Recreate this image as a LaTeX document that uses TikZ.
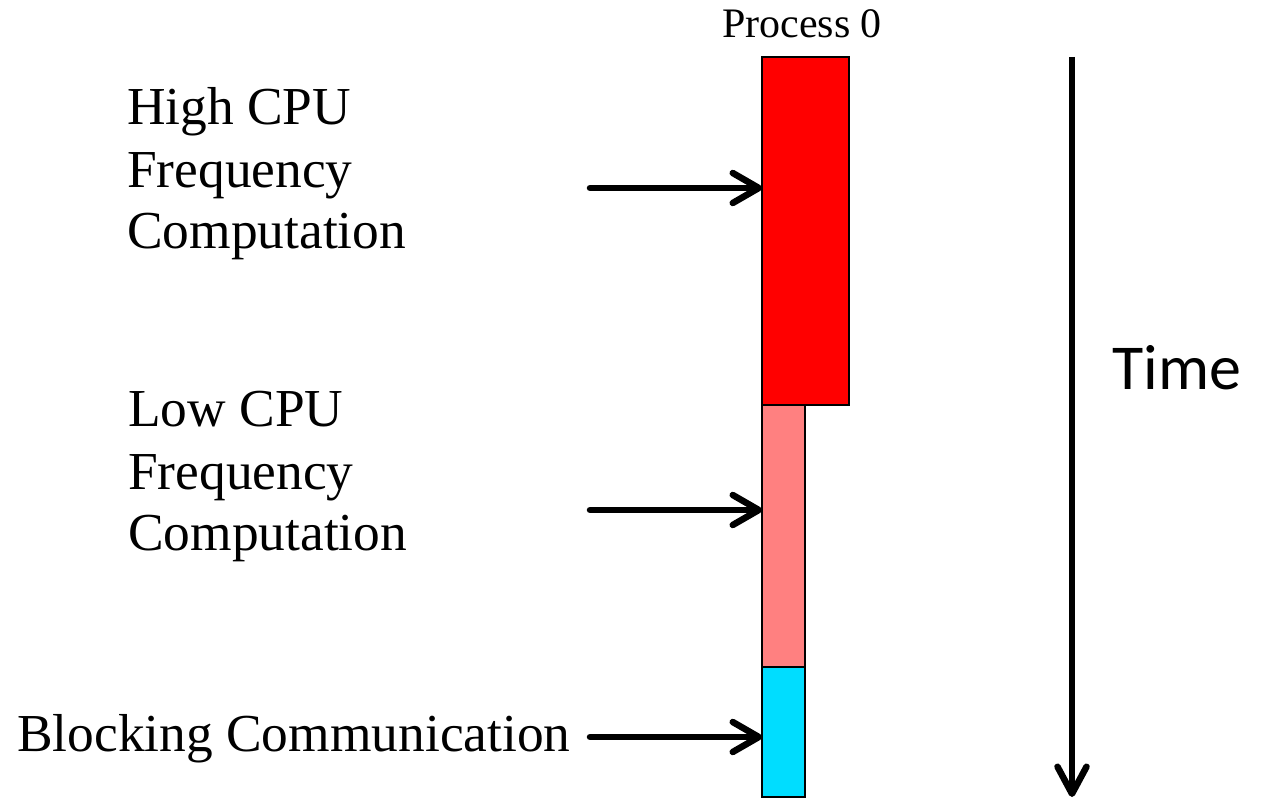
\documentclass[tikz,border=0pt]{standalone}
\usepackage{fontspec}
\setmainfont{Liberation Serif}
\newfontfamily\timefont{Carlito}
\usetikzlibrary{arrows.meta}
\definecolor{hicpu}{RGB}{255,0,0}
\definecolor{locpu}{RGB}{255,128,128}
\definecolor{commblk}{RGB}{0,221,255}
\begin{document}
\begin{tikzpicture}[x=1pt,y=-1pt,
  phase/.style={draw=black,line width=2.6pt,inner sep=0pt,outer sep=0pt,anchor=north west},
  lbl/.style={anchor=base west,inner sep=0pt,font=\fontsize{53.4}{62}\selectfont},
  pointer/.style={line width=6.5pt,line cap=round,
    -{Straight Barb[length=26pt,width=30pt,round]}},
  timeline/.style={line width=6.5pt,
    -{Straight Barb[length=27pt,width=29pt,round]}}]
\useasboundingbox (0,0) rectangle (1261,799);

% execution phases of the process
\node[phase,fill=hicpu,minimum width=87pt,minimum height=348pt] (hi) at (762,57) {};
\node[phase,fill=locpu,minimum width=43pt,minimum height=262pt] (lo) at (762,405) {};
\node[phase,fill=commblk,minimum width=43pt,minimum height=130pt] (blk) at (762,667) {};
\draw[line width=2.6pt] (hi.south west) -- (hi.south east);

\node[anchor=base,inner sep=0pt,font=\fontsize{42}{48}\selectfont] (proc) at (802,38) {Process 0};

% labels
\node[lbl] (h1) at (127,125) {High CPU};
\node[lbl] (h2) at (127,188) {Frequency};
\node[lbl] (h3) at (127,249) {Computation};
\node[lbl] (l1) at (128,427) {Low CPU};
\node[lbl] (l2) at (128,489) {Frequency};
\node[lbl] (l3) at (128,550) {Computation};
\node[lbl] (b1) at (17,751) {Blocking Communication};

% pointers
\coordinate (ah) at (590,188);
\coordinate (al) at (590,510);
\coordinate (ab) at (590,737);
\draw[pointer] (ah) -- (ah -| hi.west);
\draw[pointer] (al) -- (al -| lo.west);
\draw[pointer] (ab) -- (ab -| blk.west);

% time axis
\coordinate (t0) at (1072,57);
\coordinate (t1) at (1072,797);
\draw[timeline] (t0) -- (t1);
\node[anchor=base west,inner sep=0pt,font=\timefont\fontsize{64}{70}\selectfont] (time) at (1112,390) {Time};
\end{tikzpicture}
\end{document}
